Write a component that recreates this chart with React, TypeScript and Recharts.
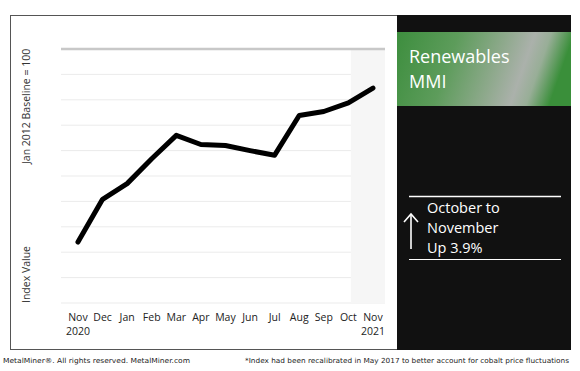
import React from "react";
import {
  CartesianGrid,
  Line,
  LineChart,
  ReferenceArea,
  ReferenceLine,
  XAxis,
  YAxis,
} from "recharts";

// Renewables MMI, Nov 2020 - Nov 2021 (no scale shown)
const months = ["Nov", "Dec", "Jan", "Feb", "Mar", "Apr", "May", "Jun", "Jul", "Aug", "Sep", "Oct", "Nov"];
const years = ["2020", "", "", "", "", "", "", "", "", "", "", "", "2021"];
const indexValues = [470, 554, 585, 634, 680, 662, 660, 650, 641, 719, 727, 744, 773];
const yTicks = [350, 400, 450, 500, 550, 600, 650, 700, 750, 800, 850];

const data = months.map((m, i) => ({ i, month: m, year: years[i], value: indexValues[i] }));

const font = "'Open Sans', 'Noto Sans', sans-serif";

const MonthTick = (props: any) => {
  const { x, y, payload } = props;
  const row = data[payload.value];
  return (
    <g>
      <text x={x} y={y + 18} textAnchor="middle" fontSize={10.5} fill="#222" fontFamily={font}>
        {row.month}
      </text>
      {row.year && (
        <text x={x} y={y + 32} textAnchor="middle" fontSize={10.5} fill="#222" fontFamily={font}>
          {row.year}
        </text>
      )}
    </g>
  );
};

const Frame = () => (
  <svg width={580} height={371} style={{ position: "absolute", left: 0, top: 0 }}>
    <defs>
      <linearGradient id="band" x1="0" y1="0" x2="1" y2="0.15">
        <stop offset="0%" stopColor="#3d8e3e" />
        <stop offset="35%" stopColor="#5d9c5b" />
        <stop offset="62%" stopColor="#8ea98c" />
        <stop offset="78%" stopColor="#abb1ab" />
        <stop offset="87%" stopColor="#98ae97" />
        <stop offset="100%" stopColor="#3a8f3a" />
      </linearGradient>
    </defs>
    <rect x={10.5} y={15.5} width={560} height={334} fill="#fff" stroke="#555" />
    <rect x={397} y={15} width={174} height={335} fill="#111" />
    <rect x={397} y={32} width={174} height={74} fill="url(#band)" />
    <text x={409} y={63} fill="#fff" fontSize={18} fontFamily={font}>Renewables</text>
    <text x={409} y={88} fill="#fff" fontSize={18} fontFamily={font}>MMI</text>

    <line x1={409} x2={561} y1={196.5} y2={196.5} stroke="#fff" strokeWidth={1.5} />
    <line x1={409} x2={561} y1={259.5} y2={259.5} stroke="#fff" strokeWidth={1} />
    <line x1={411} x2={411} y1={249} y2={215} stroke="#fff" strokeWidth={1.6} />
    <polyline points="404,222 411,214 418,222" fill="none" stroke="#fff" strokeWidth={1.6} />
    <text x={427} y={213} fill="#fff" fontSize={14.5} fontFamily={font}>October to</text>
    <text x={427} y={233} fill="#fff" fontSize={14.5} fontFamily={font}>November</text>
    <text x={427} y={253} fill="#fff" fontSize={14.5} fontFamily={font}>Up 3.9%</text>

    <text x={29.5} y={164} transform="rotate(-90 29.5 164)" fontSize={10.5} fill="#333" fontFamily={font}>
      Jan 2012 Baseline = 100
    </text>
    <text x={29.5} y={303} transform="rotate(-90 29.5 303)" fontSize={10.5} fill="#333" fontFamily={font}>
      Index Value
    </text>

    <text x={3} y={362.5} fontSize={7} fill="#222" fontFamily="'DejaVu Sans', sans-serif" textLength={187} lengthAdjust="spacingAndGlyphs">
      MetalMiner®. All rights reserved. MetalMiner.com
    </text>
    <text x={245} y={362.5} fontSize={7} fill="#222" fontFamily="'DejaVu Sans', sans-serif" textLength={324} lengthAdjust="spacingAndGlyphs">
      *Index had been recalibrated in May 2017 to better account for cobalt price fluctuations
    </text>
  </svg>
);

export default function App() {
  return (
    <div style={{ position: "fixed", left: 0, top: 0, width: 580, height: 371, background: "#fff", overflow: "hidden" }}>
      <Frame />
      <div style={{ position: "absolute", left: 0, top: 0 }}>
        <LineChart width={397} height={349} data={data} margin={{ top: 49, right: 12, bottom: 6, left: 61 }}>
          <ReferenceArea x1={11.1} x2={12.49} fill="#f6f6f6" fillOpacity={1} stroke="none" />
          <CartesianGrid vertical={false} stroke="#ebebeb" />
          <ReferenceLine y={850} stroke="#c8c8c8" strokeWidth={2.5} />
          <XAxis
            dataKey="i"
            type="number"
            domain={[-0.69, 12.49]}
            ticks={data.map((d) => d.i)}
            interval={0}
            axisLine={false}
            tickLine={false}
            tickSize={0}
            tickMargin={0}
            height={40}
            tick={<MonthTick />}
          />
          <YAxis hide domain={[350, 850]} ticks={yTicks} />
          <Line
            type="linear"
            dataKey="value"
            stroke="#000"
            strokeWidth={5}
            strokeLinejoin="round"
            strokeLinecap="round"
            dot={false}
            isAnimationActive={false}
          />
        </LineChart>
      </div>
    </div>
  );
}
